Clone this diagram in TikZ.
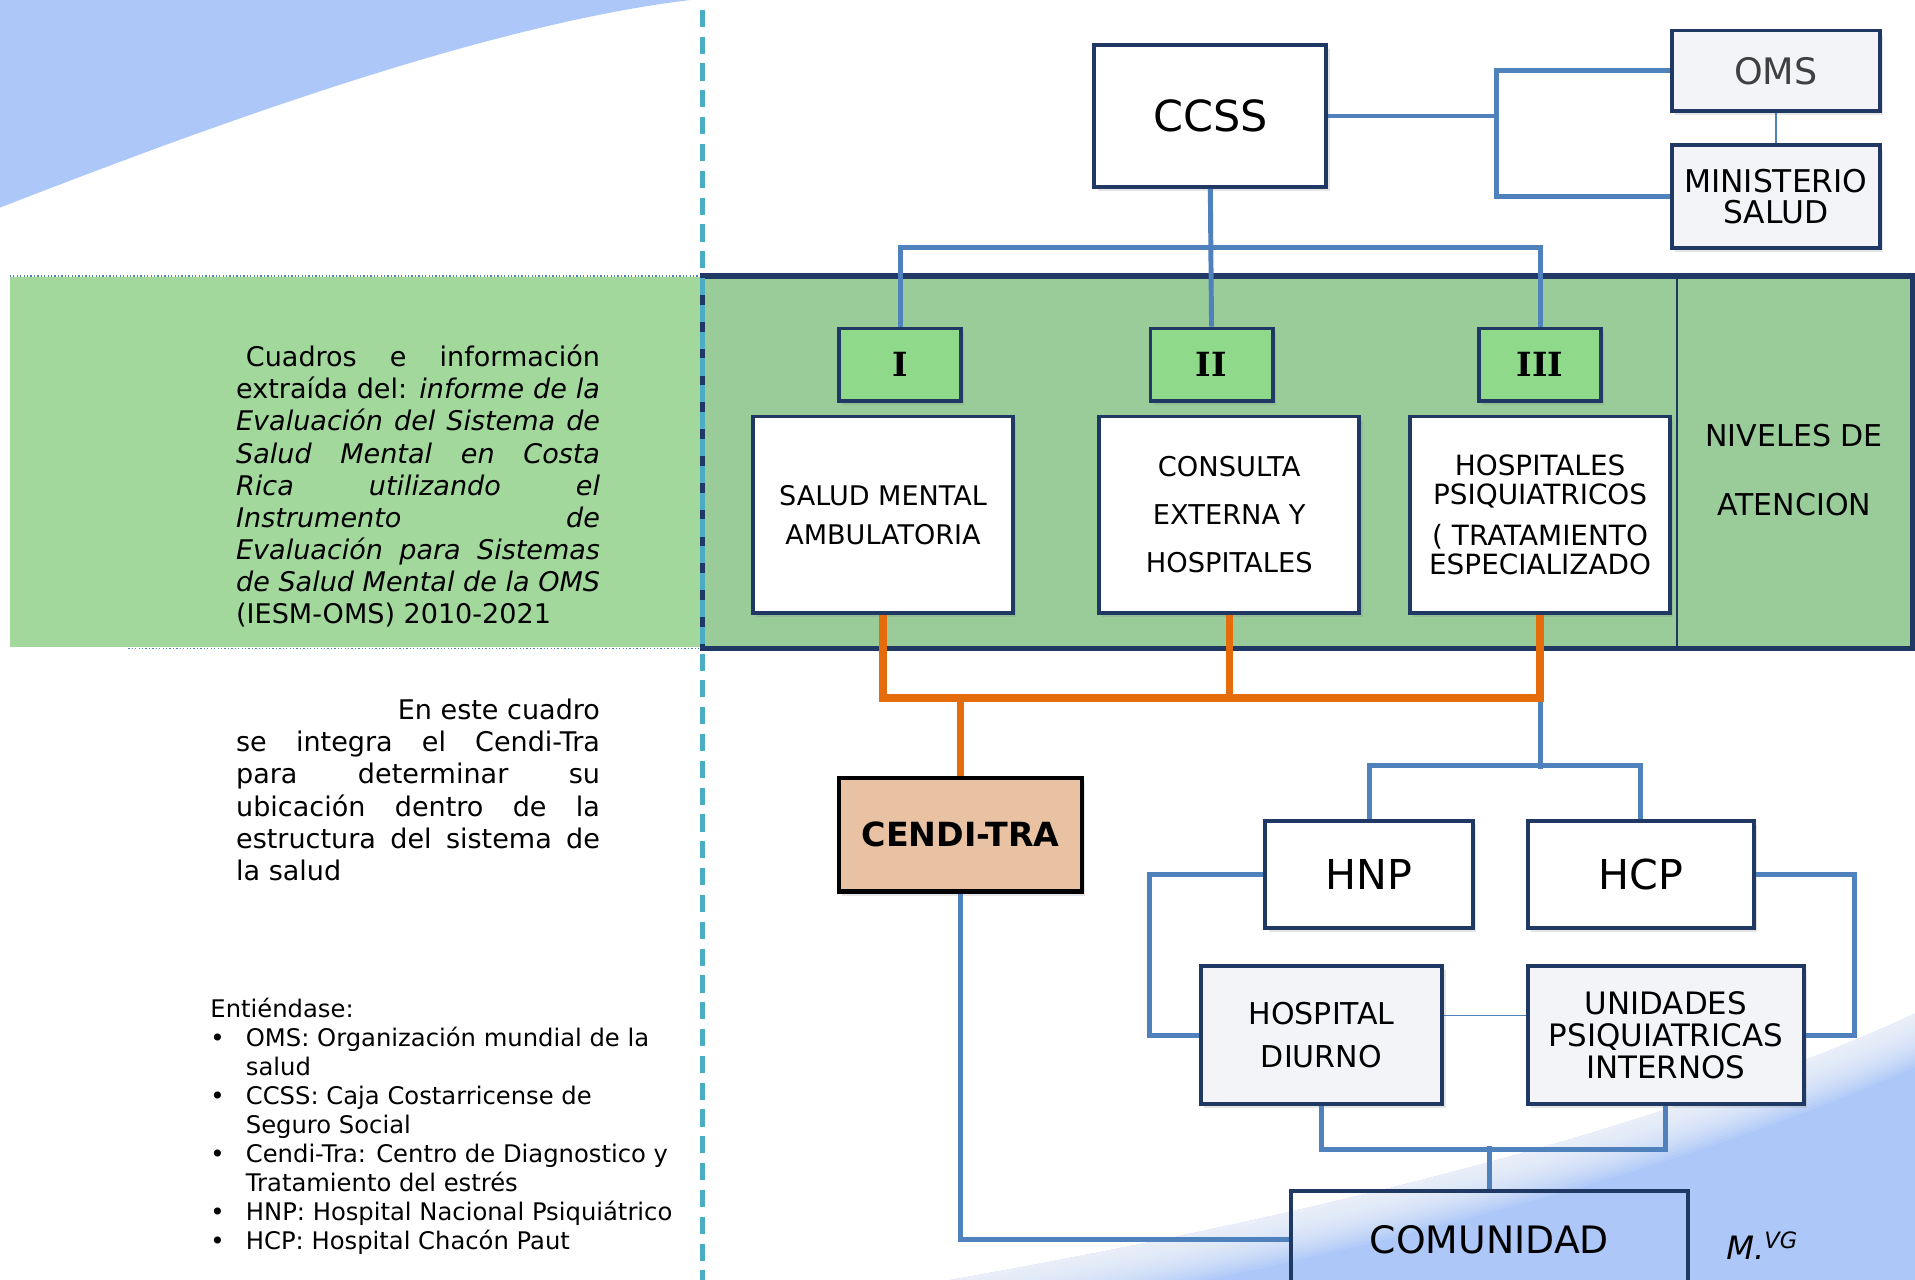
\documentclass[tikz,border=0pt]{standalone}
\usepackage{fontspec}
\setmainfont{DejaVu Sans}
\newfontfamily\romanfont{DejaVu Serif}
\usetikzlibrary{positioning,shadows}

\definecolor{navy}{HTML}{1F3864}
\definecolor{linkblue}{HTML}{4F81BD}
\definecolor{orangeln}{HTML}{E46C0A}
\definecolor{tealdash}{HTML}{4BACC6}
\definecolor{bandgreen}{HTML}{99CC99}
\definecolor{panelgreen}{HTML}{A2D89C}
\definecolor{lvlgreen}{HTML}{8FD98B}
\definecolor{swoosh}{HTML}{ADC8F8}
\definecolor{boxgray}{HTML}{F2F4F7}
\definecolor{peach}{HTML}{E8C2A2}

\newcommand{\fsz}[2]{\fontsize{#1pt}{#2pt}\selectfont}
\newcommand{\jline}[1]{\makebox[5.96cm][s]{#1}}
\newcommand{\bul}{\makebox[0.58cm][l]{•}}

\tikzset{
  plainbox/.style={draw=navy,line width=1.8pt,fill=white,align=center,inner sep=0pt},
  box/.style={plainbox,drop shadow={opacity=0.2,shadow xshift=1.5pt,shadow yshift=-2pt}},
  lvl/.style={box,fill=lvlgreen,minimum width=2cm,minimum height=1.18cm,
    font=\romanfont\bfseries\fsz{15.5}{18}},
  nivel/.style={box,minimum width=4.26cm,minimum height=3.22cm},
  conn/.style={draw=linkblue,line width=2.3pt},
  thinconn/.style={draw=linkblue,line width=0.9pt},
  orangeconn/.style={draw=orangeln,line width=3.4pt},
}

\begin{document}
\begin{tikzpicture}[x=0.02cm,y=-0.02cm]
	\useasboundingbox (0,0) rectangle (1568,1048);
	% Background swooshes
	\fill[white] (0,0) rectangle (1568,1048);
	\fill[swoosh] (0,0) -- (565,0) .. controls (400,20) and (180,100) .. (0,170) -- cycle;
	\begin{scope}
		\path[clip] (1568,1048) -- (778,1048) .. controls (1050,1000) and (1350,930) .. (1568,830) -- cycle;
		\fill[swoosh] (0,0) rectangle (1568,1048);
		\foreach \w in {0.1,0.2,...,1.6}
			\draw[white,opacity=0.09,line width=\w cm] (778,1048) .. controls (1050,1000) and (1350,930) .. (1568,830);
	\end{scope}

	% Left panel and band of levels
	\fill[panelgreen] (8,227) rectangle (575,530);
	\draw[linkblue,densely dotted,line width=0.6pt] (8,226) -- (575,226) (105,531) -- (575,531);
	\draw[navy,line width=2.5pt,fill=bandgreen] (575,226) rectangle (1566,531);
	\draw[navy,line width=1.2pt] (1373,226) -- (1373,531);
	\draw[tealdash,line width=2.3pt,dash pattern=on 8pt off 4.5pt] (575,8) -- (575,1048);

	% Notes on the left
	\node[anchor=north west,align=left,inner sep=0pt,font=\fsz{12.6}{15}] (note) at (193,282) {%
		\jline{\hspace{0.16cm}Cuadros e información}\\
		\jline{extraída del: \textit{informe de la}}\\
		\jline{\itshape Evaluación del Sistema de}\\
		\jline{\itshape Salud Mental en Costa}\\
		\jline{\itshape Rica utilizando el}\\
		\jline{\itshape Instrumento de}\\
		\jline{\itshape Evaluación para Sistemas}\\
		\jline{\itshape de Salud Mental de la OMS}\\
		(IESM-OMS) 2010-2021};
	\node[anchor=north west,align=left,inner sep=0pt,font=\fsz{12.6}{15}] (cuadro) at (193,572) {%
		\makebox[5.96cm][r]{En este cuadro}\\
		\jline{se integra el Cendi-Tra}\\
		\jline{para determinar su}\\
		\jline{ubicación dentro de la}\\
		\jline{estructura del sistema de}\\
		la salud};
	\node[anchor=north west,align=left,inner sep=0pt,font=\fsz{11.3}{13.5}] (siglas) at (172,817) {%
		Entiéndase:\\
		\bul OMS: Organización mundial de la\\
		\hspace*{0.58cm}salud\\
		\bul CCSS: Caja Costarricense de\\
		\hspace*{0.58cm}Seguro Social\\
		\bul Cendi-Tra: Centro de Diagnostico y\\
		\hspace*{0.58cm}Tratamiento del estrés\\
		\bul HNP: Hospital Nacional Psiquiátrico\\
		\bul HCP: Hospital Chacón Paut};

	% Top of the structure
	\node[box,minimum width=3.8cm,minimum height=2.32cm,font=\fsz{20}{24}] (ccss) at (991,95) {CCSS};
	\node[box,fill=boxgray,minimum width=3.4cm,minimum height=1.32cm,text=black!75,font=\fsz{17}{20}] (oms) at (1454,58) {OMS};
	\node[box,fill=boxgray,minimum width=3.4cm,minimum height=1.68cm,font=\fsz{14.6}{14.8}] (minsalud) at (1454,161) {MINISTERIO\\SALUD};

	% Levels I, II, III
	\node[lvl] (lvlI) at (737,298.5) {I};
	\node[lvl] (lvlII) at (992,298.5) {II};
	\node[lvl] (lvlIII) at (1261,298.5) {III};
	\node[nivel,font=\fsz{12.6}{18.2}] (amb) at (723,421.5) {SALUD MENTAL\\AMBULATORIA};
	\node[nivel,font=\fsz{12.7}{22.5}] (cext) at (1006.5,421.5) {CONSULTA\\EXTERNA Y\\HOSPITALES};
	\node[nivel,font=\fsz{13}{13.7}] (hpsq) at (1261,421.5) {HOSPITALES\\PSIQUIATRICOS\\[5pt]( TRATAMIENTO\\ESPECIALIZADO};
	\node[align=center,font=\fsz{14}{32.4}] (niveles) at (1469,385) {NIVELES DE\\ATENCION};

	% Lower boxes
	\node[box,fill=peach,draw=black,line width=2.2pt,minimum width=3.98cm,minimum height=1.86cm,font=\bfseries\fsz{15.5}{18}] (cendi) at (786.5,683.5) {CENDI-TRA};
	\node[box,minimum width=3.4cm,minimum height=1.76cm,font=\fsz{19.2}{22}] (hnp) at (1121,716) {HNP};
	\node[box,minimum width=3.7cm,minimum height=1.76cm,font=\fsz{19.2}{22}] (hcp) at (1343.5,716) {HCP};
	\node[box,fill=boxgray,minimum width=3.96cm,minimum height=2.26cm,font=\fsz{14}{20.5}] (hdiurno) at (1082,847.5) {HOSPITAL\\DIURNO};
	\node[box,fill=boxgray,minimum width=4.52cm,minimum height=2.26cm,font=\fsz{14.4}{14.8}] (unidades) at (1364,847.5) {UNIDADES\\PSIQUIATRICAS\\INTERNOS};
	\node[plainbox,fill=none,minimum width=6.5cm,minimum height=1.6cm,font=\fsz{17.6}{20}] (comunidad) at (1219.5,1015) {COMUNIDAD};
	\node[font=\itshape\fsz{15}{18}] (firma) at (1443,1020) {M.\textsuperscript{VG}};

	% Connectors
	\draw[conn] (oms.west) -- ++(-142,0) |- (ccss.east);
	\draw[conn] (minsalud.west) -- ++(-142,0) |- (ccss.east);
	\draw[thinconn] (oms.south) -- (minsalud.north);
	\draw[conn] (ccss.south) -- (lvlII.north);
	\draw[conn] (lvlI.north) -- ++(0,-65) -| (lvlIII.north);
	\draw[conn] (hpsq.south) -- ++(0,126);
	\draw[conn] (hnp.north) -- ++(0,-44) -| (hcp.north);
	\draw[orangeconn] (amb.south) -- ++(0,68) -| (hpsq.south);
	\draw[orangeconn] (cext.south) -- ++(0,68);
	\draw[orangeconn] (cendi.north) -- ++(0,-67);
	\draw[conn] (hnp.west) -- ++(-93,0) |- (hdiurno.west);
	\draw[conn] (hcp.east) -- ++(81,0) |- (unidades.east);
	\draw[thinconn] ([yshift=0.32cm]hdiurno.east) -- ([yshift=0.32cm]unidades.west);
	\draw[conn] (hdiurno.south) -- ++(0,36) -| (unidades.south);
	\draw[conn] (comunidad.north) -- ++(0,-35);
	\draw[conn] (cendi.south) |- (comunidad.west);
\end{tikzpicture}
\end{document}
